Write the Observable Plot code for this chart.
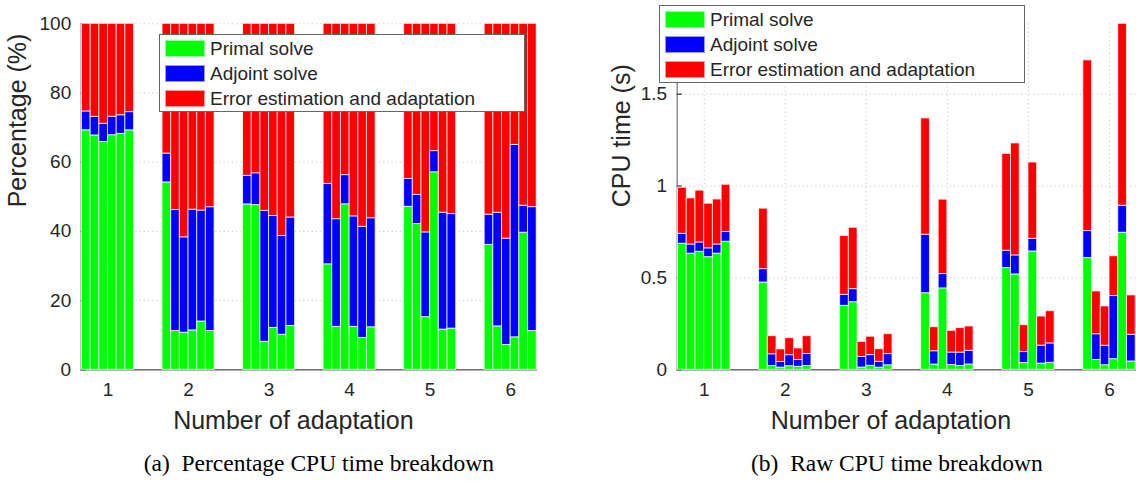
<!DOCTYPE html>
<html>
<head>
<meta charset="utf-8">
<script src="https://cdn.jsdelivr.net/npm/d3@7"></script>
<script src="https://cdn.jsdelivr.net/npm/@observablehq/plot@0.6"></script>
<style>
  body { margin: 0; background: #fff; }
  #fig { position: relative; width: 1136px; height: 481px; overflow: hidden; font-family: "Liberation Sans", Arial, sans-serif; color: #262626; }
  #fig > .panel { position: absolute; top: 0; }
  .legend { position: absolute; background: #fff; border: 1px solid #666; box-sizing: border-box; width: 366px; height: 78px; }
  .legend .row { position: absolute; left: 5px; height: 17px; display: flex; align-items: center; }
  .legend .sw { width: 40px; height: 17px; box-sizing: border-box; border: 1px solid rgba(255,255,255,0.6); }
  .legend .lab { margin-left: 5px; font-size: 19px; line-height: 17px; white-space: nowrap; color: #262626; }
</style>
</head>
<body>
<div id="fig"></div>
<script>
// Adaptation steps (one cluster of six runs per step)
const groups = [1, 2, 3, 4, 5, 6];
const runsPerGroup = 6;

// Component names and their colours
const components = ["Primal solve", "Adjoint solve", "Error estimation and adaptation"];
const colors = ["#00ff00", "#0000ff", "#ff0000"];

// Raw CPU time (s) of each component, six runs per adaptation step
const primal = [
  0.686, 0.632, 0.642, 0.613, 0.632, 0.697,
  0.475, 0.0205, 0.0119, 0.0196, 0.0162, 0.0205,
  0.348, 0.368, 0.0123, 0.0218, 0.0114, 0.0246,
  0.417, 0.0288, 0.443, 0.0263, 0.0209, 0.029,
  0.5535, 0.519, 0.037, 0.644, 0.0337, 0.038,
  0.608, 0.0535, 0.0248, 0.058, 0.746, 0.0454
];
const adjoint = [
  0.054, 0.050, 0.051, 0.048, 0.050, 0.053,
  0.073, 0.064, 0.0306, 0.060, 0.0372, 0.0655,
  0.060, 0.071, 0.0575, 0.0582, 0.0321, 0.0608,
  0.318, 0.0722, 0.078, 0.0677, 0.0729, 0.0744,
  0.0945, 0.1035, 0.0595, 0.069, 0.098, 0.1056,
  0.147, 0.140, 0.106, 0.3437, 0.147, 0.145
];
const errorEst = [
  0.251, 0.251, 0.282, 0.243, 0.245, 0.257,
  0.329, 0.0985, 0.0685, 0.0924, 0.0626, 0.097,
  0.320, 0.334, 0.0822, 0.100, 0.069, 0.1086,
  0.633, 0.131, 0.405, 0.118, 0.1332, 0.1326,
  0.527, 0.6095, 0.1465, 0.415, 0.1583, 0.1754,
  0.929, 0.233, 0.2142, 0.2163, 0.99, 0.2146
];

// Axis tick values
const pctTicks = [0, 20, 40, 60, 80, 100];
const timeTicks = [0, 0.5, 1, 1.5];

// Grouped-bar layout: each cluster takes this fraction of one x unit
const clusterWidth = 0.646;
const barWidth = clusterWidth / runsPerGroup;
const xDomain = [groups[0] - clusterWidth / 2 - 0.01, groups[groups.length - 1] + clusterWidth / 2 + 0.01];

// Long-format table: one row per (bar, component)
const seriesValues = [primal, adjoint, errorEst];
const rows = [];
primal.forEach((_, k) => {
  const g = groups[Math.floor(k / runsPerGroup)];
  const r = k % runsPerGroup;
  const x1 = g - clusterWidth / 2 + r * barWidth;
  const total = d3.sum(seriesValues, s => s[k]);
  components.forEach((c, j) => {
    rows.push({bar: k, x1, x2: x1 + barWidth, component: c, time: seriesValues[j][k], pct: 100 * seriesValues[j][k] / total});
  });
});
const totals = primal.map((_, k) => d3.sum(seriesValues, s => s[k]));

const figH = 481, mTop = 23.3, mBottom = 111.7;
const frameH = figH - mTop - mBottom;
const ink = "#262626";

function panel({width, marginLeft, marginRight, yKey, yDomain, yTicks, yFormat, yLabel, yLabelDx, caption, captionDx, xLabelDx}) {
  const frameW = width - marginLeft - marginRight;
  return Plot.plot({
    width, height: figH,
    marginLeft, marginRight, marginTop: mTop, marginBottom: mBottom,
    style: {fontFamily: "Liberation Sans, Arial, sans-serif", fontSize: "19px", color: ink, background: "transparent", overflow: "visible"},
    x: {domain: xDomain},
    y: {domain: yDomain},
    color: {domain: components, range: colors},
    marks: [
      Plot.gridX(groups, {stroke: "#c8c8c8", strokeOpacity: 1, strokeDasharray: "1.2,3"}),
      Plot.gridY(yTicks, {stroke: "#c8c8c8", strokeOpacity: 1, strokeDasharray: "1.2,3"}),
      Plot.ruleY([0], {stroke: "#6e6e6e", strokeWidth: 1.6}),
      Plot.ruleX([xDomain[0]], {stroke: "#8a8a8a", strokeWidth: 1.4}),
      Plot.tickX(groups, {x: d => d, stroke: ink, strokeWidth: 1.2, insetTop: frameH - 5}),
      Plot.tickY(yTicks, {y: d => d, stroke: ink, strokeWidth: 1.2, insetRight: frameW - 5}),
      Plot.rectY(rows, Plot.stackY({x1: "x1", x2: "x2", y: yKey, fill: "component", stroke: "#ffffff", strokeOpacity: 0.75, strokeWidth: 1})),
      Plot.axisY({ticks: yTicks, tickSize: 0, tickPadding: 10, tickFormat: yFormat, label: null, fontSize: 19}),
      Plot.axisX({ticks: groups, tickSize: 0, tickPadding: 13, tickFormat: d => String(d), label: null, fontSize: 19}),
      Plot.text([yLabel], {text: d => d, frameAnchor: "left", rotate: -90, dx: yLabelDx, dy: 10.5, fontSize: 25, fill: ink}),
      Plot.text(["Number of adaptation"], {text: d => d, frameAnchor: "bottom", dx: xLabelDx, dy: 51, lineAnchor: "middle", fontSize: 25, fill: ink}),
      Plot.text([caption], {text: d => d, frameAnchor: "bottom", dx: captionDx, dy: 93.7, lineAnchor: "middle", fontSize: 23.5, fill: "#000", fontFamily: "Liberation Serif, Times New Roman, serif"})
    ]
  });
}

const fig = document.getElementById("fig");

const leftChart = panel({
  width: 560, marginLeft: 80.7, marginRight: 23,
  yKey: "pct", yDomain: [0, 100], yTicks: pctTicks, yFormat: d => String(d),
  yLabel: "Percentage (%)", yLabelDx: -62.7,
  caption: "(a)\u2002Percentage CPU time breakdown", captionDx: 9.5, xLabelDx: -16
});
const rightChart = panel({
  width: 576, marginLeft: 116.7, marginRight: 0,
  yKey: "time", yDomain: [0, d3.max(totals)], yTicks: timeTicks, yFormat: d => String(d),
  yLabel: "CPU time (s)", yLabelDx: -55.7,
  caption: "(b)\u2002Raw CPU time breakdown", captionDx: -10, xLabelDx: -16
});

const wrapL = document.createElement("div");
wrapL.className = "panel"; wrapL.style.left = "0px"; wrapL.appendChild(leftChart);
const wrapR = document.createElement("div");
wrapR.className = "panel"; wrapR.style.left = "560px"; wrapR.appendChild(rightChart);
fig.appendChild(wrapL);
fig.appendChild(wrapR);

// Boxed legends laid over each panel
function legend(x, y) {
  const box = document.createElement("div");
  box.className = "legend";
  box.style.left = x + "px";
  box.style.top = y + "px";
  components.forEach((c, i) => {
    const row = document.createElement("div");
    row.className = "row";
    row.style.top = (4.5 + i * 25) + "px";
    const sw = document.createElement("span");
    sw.className = "sw";
    sw.style.background = colors[i];
    const lab = document.createElement("span");
    lab.className = "lab";
    lab.textContent = c;
    row.appendChild(sw);
    row.appendChild(lab);
    box.appendChild(row);
  });
  fig.appendChild(box);
}
legend(159, 34);
legend(659, 5);
</script>
</body>
</html>
